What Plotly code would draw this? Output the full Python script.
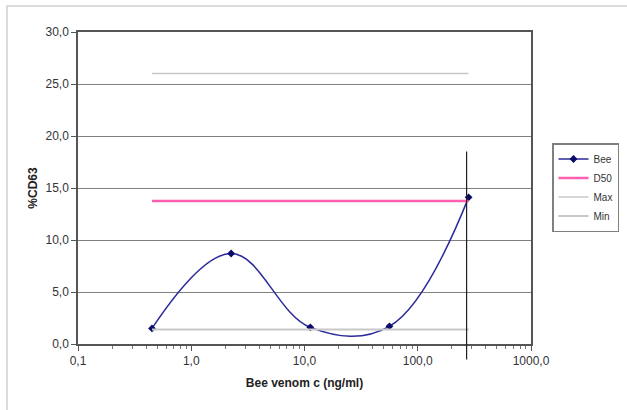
import math
import plotly.graph_objects as go

conc = [0.45, 2.25, 11.25, 56.25, 281.25]
bee = [1.5, 8.7, 1.6, 1.7, 14.1]
d50_value = 13.75
max_value = 26.0
min_value = 1.4
cutoff_x = 270.0
cutoff_top = 18.5
cutoff_bottom = -1.5

x_tickvals = [0.1, 1, 10, 100, 1000]
x_ticktext = ["0,1", "1,0", "10,0", "100,0", "1000,0"]
y_tickvals = [0, 5, 10, 15, 20, 25, 30]
y_ticktext = ["0,0", "5,0", "10,0", "15,0", "20,0", "25,0", "30,0"]

W, H = 627, 410
ml, mr, mt, mb = 78, 96, 32, 66
pw, ph = W - ml - mr, H - mt - mb
xr = [-1, 3]
yr = [0, 30]

fig = go.Figure()
fig.add_trace(go.Scatter(x=conc, y=bee, name="Bee", mode="lines+markers",
                         line=dict(color="#2a2a9a", width=1.5, shape="spline", smoothing=1.1),
                         marker=dict(symbol="diamond", size=6, color="#0a0a6a")))
xs = [conc[0], conc[-1]]
fig.add_trace(go.Scatter(x=xs, y=[d50_value] * 2, name="D50", mode="lines",
                         line=dict(color="#ff5fb0", width=2.5)))
fig.add_trace(go.Scatter(x=xs, y=[max_value] * 2, name="Max", mode="lines",
                         line=dict(color="#c8c8c8", width=1.5)))
fig.add_trace(go.Scatter(x=xs, y=[min_value] * 2, name="Min", mode="lines",
                         line=dict(color="#c8c8c8", width=2)))

def px(v):
    return (math.log10(v) - xr[0]) / (xr[1] - xr[0])
def py(v):
    return (v - yr[0]) / (yr[1] - yr[0])

shapes = [
    dict(type="line", xref="paper", yref="paper", x0=px(cutoff_x), x1=px(cutoff_x),
         y0=py(cutoff_bottom), y1=py(cutoff_top), line=dict(color="#202020", width=1.2)),
    dict(type="rect", xref="paper", yref="paper", x0=-(ml - 7) / pw, x1=(pw + mr + 10) / pw,
         y0=-(mb + 10) / ph, y1=1 + (mt - 6) / ph, line=dict(color="#d0d0d0", width=1.5)),
]

fig.update_layout(
    width=W, height=H,
    margin=dict(l=ml, r=mr, t=mt, b=mb, autoexpand=False),
    paper_bgcolor="white", plot_bgcolor="white",
    font=dict(family="Liberation Sans, Arial", size=12, color="#333333"),
    showlegend=True,
    legend=dict(x=(619 - ml) / pw, y=1 - (143 - mt) / ph, xanchor="right", yanchor="top",
                bordercolor="#808080", borderwidth=1.5, bgcolor="white",
                font=dict(size=10, color="#333333"), tracegroupgap=0,
                itemwidth=30),
    shapes=shapes,
    xaxis=dict(type="log", range=xr, tickvals=x_tickvals, ticktext=x_ticktext,
               ticks="outside", ticklen=5, tickcolor="#555555",
               showgrid=False, showline=True, linecolor="#555555", linewidth=1.5,
               mirror=True, zeroline=False,
               minor=dict(ticks="outside", ticklen=3, tickcolor="#777777", dtick="D1", showgrid=False),
               title=dict(text="<b>Bee venom c (ng/ml)</b>", font=dict(size=12, color="#222222"), standoff=11)),
    yaxis=dict(range=yr, tickvals=y_tickvals, ticktext=y_ticktext,
               ticks="outside", ticklen=5, tickcolor="#555555",
               showgrid=True, gridcolor="#808080", gridwidth=1.3,
               showline=True, linecolor="#555555", linewidth=1.5, mirror=True, zeroline=False,
               title=dict(text="<b>%CD63</b>", font=dict(size=12, color="#222222"), standoff=5)),
)

fig.write_html("out.html")
